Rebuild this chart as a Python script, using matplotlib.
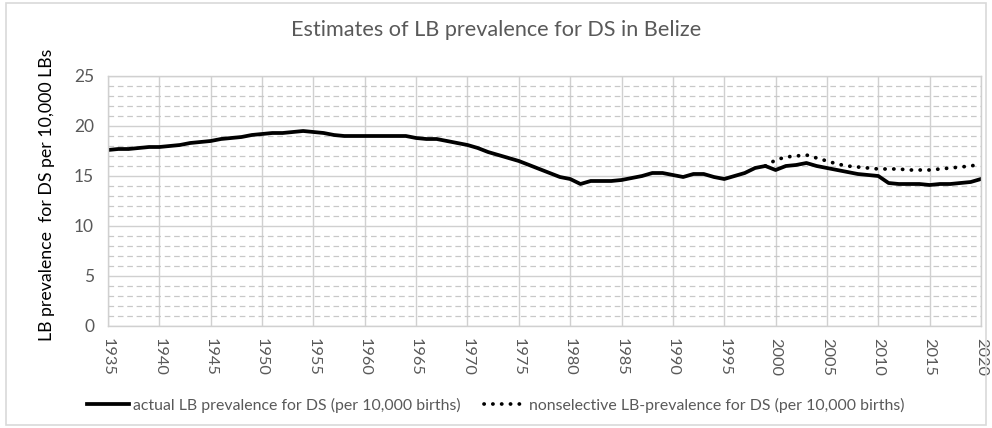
import numpy as np
import matplotlib
matplotlib.use('Agg')
import matplotlib.pyplot as plt
from matplotlib.patches import Rectangle

plt.rcParams['font.family'] = ['Lato', 'DejaVu Sans']

years = np.arange(1935, 2021)
actual = [17.6, 17.7, 17.7, 17.8, 17.9, 17.9, 18.0, 18.1, 18.3, 18.4,
          18.5, 18.7, 18.8, 18.9, 19.1, 19.2, 19.3, 19.3, 19.4, 19.5,
          19.4, 19.3, 19.1, 19.0, 19.0, 19.0, 19.0, 19.0, 19.0, 19.0,
          18.8, 18.7, 18.7, 18.5, 18.3, 18.1, 17.8, 17.4, 17.1, 16.8,
          16.5, 16.1, 15.7, 15.3, 14.9, 14.7, 14.2, 14.5, 14.5, 14.5,
          14.6, 14.8, 15.0, 15.3, 15.3, 15.1, 14.9, 15.2, 15.2, 14.9,
          14.7, 15.0, 15.3, 15.8, 16.0, 15.6, 16.0, 16.1, 16.3, 16.0,
          15.8, 15.6, 15.4, 15.2, 15.1, 15.0, 14.3, 14.2, 14.2, 14.2,
          14.1, 14.2, 14.2, 14.3, 14.4, 14.7]

years_ns = np.arange(1999, 2021)
nonselective = [16.0, 16.6, 16.9, 17.0, 17.1, 16.8, 16.5, 16.2, 16.0, 15.9,
                15.8, 15.7, 15.7, 15.7, 15.6, 15.6, 15.6, 15.7, 15.8, 15.9,
                16.0, 16.2]

xticks = list(range(1935, 2021, 5))
yticks = list(range(0, 26, 5))

fig = plt.figure(figsize=(9.92, 4.28), dpi=100)
fig.patches.append(Rectangle((0.006, 0.008), 0.988, 0.984, transform=fig.transFigure,
                             fill=False, edgecolor='#d9d9d9', linewidth=1.2))
ax = fig.add_axes([108 / 992, 1 - 326 / 428, 873 / 992, 250 / 428])

ax.plot(years, actual, color='black', linewidth=2.7, solid_joinstyle='round',
        label='actual LB prevalence for DS (per 10,000 births)')
ax.plot(years_ns, nonselective, color='black', linewidth=2.7,
        linestyle=(0, (0.05, 2.3)), dash_capstyle='round',
        label='nonselective LB-prevalence for DS (per 10,000 births)')

ax.set_xlim(1935, 2020)
ax.set_ylim(0, 25)
ax.set_xticks(xticks)
ax.set_yticks(yticks)
ax.set_yticks(np.arange(0, 25, 1), minor=True)
ax.grid(True, which='major', color='#d0d0d0', linewidth=1.0)
ax.grid(True, which='minor', axis='y', color='#c8c8c8', linewidth=0.9,
        linestyle=(0, (4.5, 3)))
ax.set_axisbelow(True)
for s in ax.spines.values():
    s.set_color('#d0d0d0')
    s.set_linewidth(1.0)

ax.tick_params(axis='both', which='both', length=0, colors='#595959', labelsize=11.8)
ax.tick_params(axis='y', labelsize=12.5, pad=10)
ax.tick_params(axis='x', pad=9)
for lbl in ax.get_xticklabels():
    lbl.set_rotation(270)
    lbl.set_va('top')
    lbl.set_ha('center')

fig.text(0.5, 1 - 30 / 428, 'Estimates of LB prevalence for DS in Belize',
         ha='center', va='center', fontsize=15.6, color='#595959')
fig.text(47 / 992, 1 - 195 / 428, 'LB prevalence  for DS per 10,000 LBs',
         rotation=90, ha='center', va='center', fontsize=12.8, color='black')

fig.legend(loc='center', bbox_to_anchor=(496 / 992, 1 - 405 / 428), ncol=2,
           frameon=False, fontsize=11.4, handlelength=2.6, handletextpad=0.25,
           columnspacing=1.5, labelcolor='#595959')

fig.savefig('out.png', dpi=100)
